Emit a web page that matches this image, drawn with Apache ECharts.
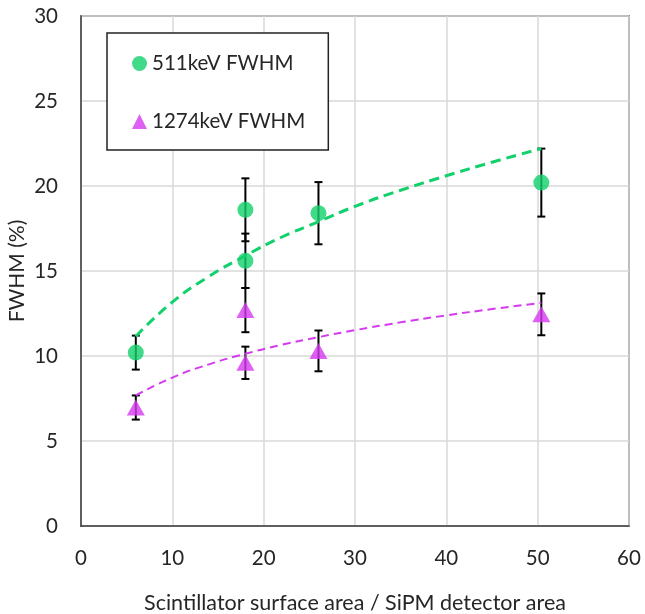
<!DOCTYPE html>
<html>
<head>
<meta charset="utf-8">
<script src="https://cdn.jsdelivr.net/npm/echarts@6/dist/echarts.min.js"></script>
<style>
  html, body { margin: 0; padding: 0; background: #fff; }
  #chart { width: 645px; height: 614px; }
</style>
</head>
<body>
<div id="chart"></div>
<script>
// 数据：点和误差
const xTicks = [0, 10, 20, 30, 40, 50, 60];
const yTicks = [0, 5, 10, 15, 20, 25, 30];

const area511 = [6, 18, 18, 26, 50.4];
const fwhm511 = [10.2, 18.6, 15.6, 18.4, 20.2];
const err511 = [1.0, 1.85, 1.6, 1.83, 2.0];

const area1274 = [6, 18, 18, 26, 50.4];
const fwhm1274 = [6.97, 12.7, 9.6, 10.3, 12.45];
const err1274 = [0.71, 1.3, 0.95, 1.2, 1.23];

// 趋势线（虚线）
const trendX = [6, 10, 14, 18, 22, 26, 30, 35, 40, 45, 50.4];
const trend511 = [11.15, 13.17, 14.68, 15.9, 17.0, 17.9, 18.8, 19.75, 20.6, 21.4, 22.2];
const trend1274 = [7.68, 8.73, 9.51, 10.13, 10.66, 11.11, 11.52, 11.98, 12.39, 12.76, 13.13];

const GREEN = '#12D16C';
const PURPLE = '#D63AF0';
const FONT = 'Lato';
const TEXT = '#262626';

const chart = echarts.init(document.getElementById('chart'), null, { renderer: 'canvas' });

const pairs = (xs, ys) => xs.map((x, i) => [x, ys[i]]);
const errData = (xs, ys, es) => xs.map((x, i) => [x, ys[i] - es[i], ys[i] + es[i]]);

// 误差线绘制
function renderError(params, api) {
    const x = api.value(0);
    const lo = api.coord([x, api.value(1)]);
    const hi = api.coord([x, api.value(2)]);
    const cap = 4;
    const style = { stroke: '#000', lineWidth: 2 };
    return {
        type: 'group',
        children: [
            { type: 'line', shape: { x1: lo[0], y1: lo[1], x2: hi[0], y2: hi[1] }, style },
            { type: 'line', shape: { x1: lo[0] - cap, y1: lo[1], x2: lo[0] + cap, y2: lo[1] }, style },
            { type: 'line', shape: { x1: hi[0] - cap, y1: hi[1], x2: hi[0] + cap, y2: hi[1] }, style }
        ]
    };
}

const option = {
    animation: false,
    backgroundColor: '#fff',
    grid: {
        left: 81, right: 16, top: 16, bottom: 88,
        outerBoundsMode: 'none',
        show: true, borderColor: '#404040', borderWidth: 1.5
    },
    legend: {
        orient: 'vertical',
        left: 107, top: 33,
        padding: [20, 23, 18, 25],
        itemGap: 37,
        itemWidth: 15, itemHeight: 15,
        itemTextGap: 6,
        borderColor: '#222', borderWidth: 1.5,
        backgroundColor: '#fff',
        data: ['511keV FWHM', '1274keV FWHM'],
        textStyle: { fontFamily: FONT, fontSize: 20.5, lineHeight: 20, color: TEXT }
    },
    xAxis: {
        type: 'value', min: 0, max: 60, interval: 10,
        name: 'Scintillator surface area / SiPM detector area',
        nameLocation: 'middle', nameGap: 66, nameMoveOverlap: false,
        nameTextStyle: { fontFamily: FONT, fontSize: 21.5, color: TEXT },
        axisLine: { show: true, lineStyle: { color: '#404040', width: 1.5 } },
        axisTick: { show: false },
        axisLabel: { fontFamily: FONT, fontSize: 20.5, color: TEXT, margin: 22 },
        splitLine: { show: true, lineStyle: { color: '#D9D9D9', width: 1.5 } }
    },
    yAxis: {
        type: 'value', min: 0, max: 30, interval: 5,
        name: 'FWHM (%)',
        nameLocation: 'middle', nameGap: 53, nameMoveOverlap: false,
        nameTextStyle: { fontFamily: FONT, fontSize: 21, color: TEXT },
        axisLine: { show: true, lineStyle: { color: '#404040', width: 1.5 } },
        axisTick: { show: false },
        axisLabel: { fontFamily: FONT, fontSize: 20.5, color: TEXT, margin: 23 },
        splitLine: { show: true, lineStyle: { color: '#D9D9D9', width: 1.5 } }
    },
    series: [
        {
            type: 'custom', name: 'err511', renderItem: renderError,
            data: errData(area511, fwhm511, err511), z: 2, silent: true
        },
        {
            type: 'custom', name: 'err1274', renderItem: renderError,
            data: errData(area1274, fwhm1274, err1274), z: 2, silent: true
        },
        {
            type: 'scatter', name: '511keV FWHM',
            symbol: 'circle', symbolSize: 16,
            itemStyle: { color: GREEN },
            data: pairs(area511, fwhm511), z: 3
        },
        {
            type: 'scatter', name: '1274keV FWHM',
            symbol: 'triangle', symbolSize: [18, 16],
            itemStyle: { color: PURPLE },
            data: pairs(area1274, fwhm1274), z: 3
        },
        {
            type: 'line', name: 'trend511', smooth: true, showSymbol: false,
            lineStyle: { color: GREEN, width: 3, type: [10, 6] },
            data: pairs(trendX, trend511), z: 4, silent: true
        },
        {
            type: 'line', name: 'trend1274', smooth: true, showSymbol: false,
            lineStyle: { color: PURPLE, width: 2, type: [8, 5] },
            data: pairs(trendX, trend1274), z: 4, silent: true
        }
    ]
};

chart.setOption(option);
</script>
</body>
</html>
